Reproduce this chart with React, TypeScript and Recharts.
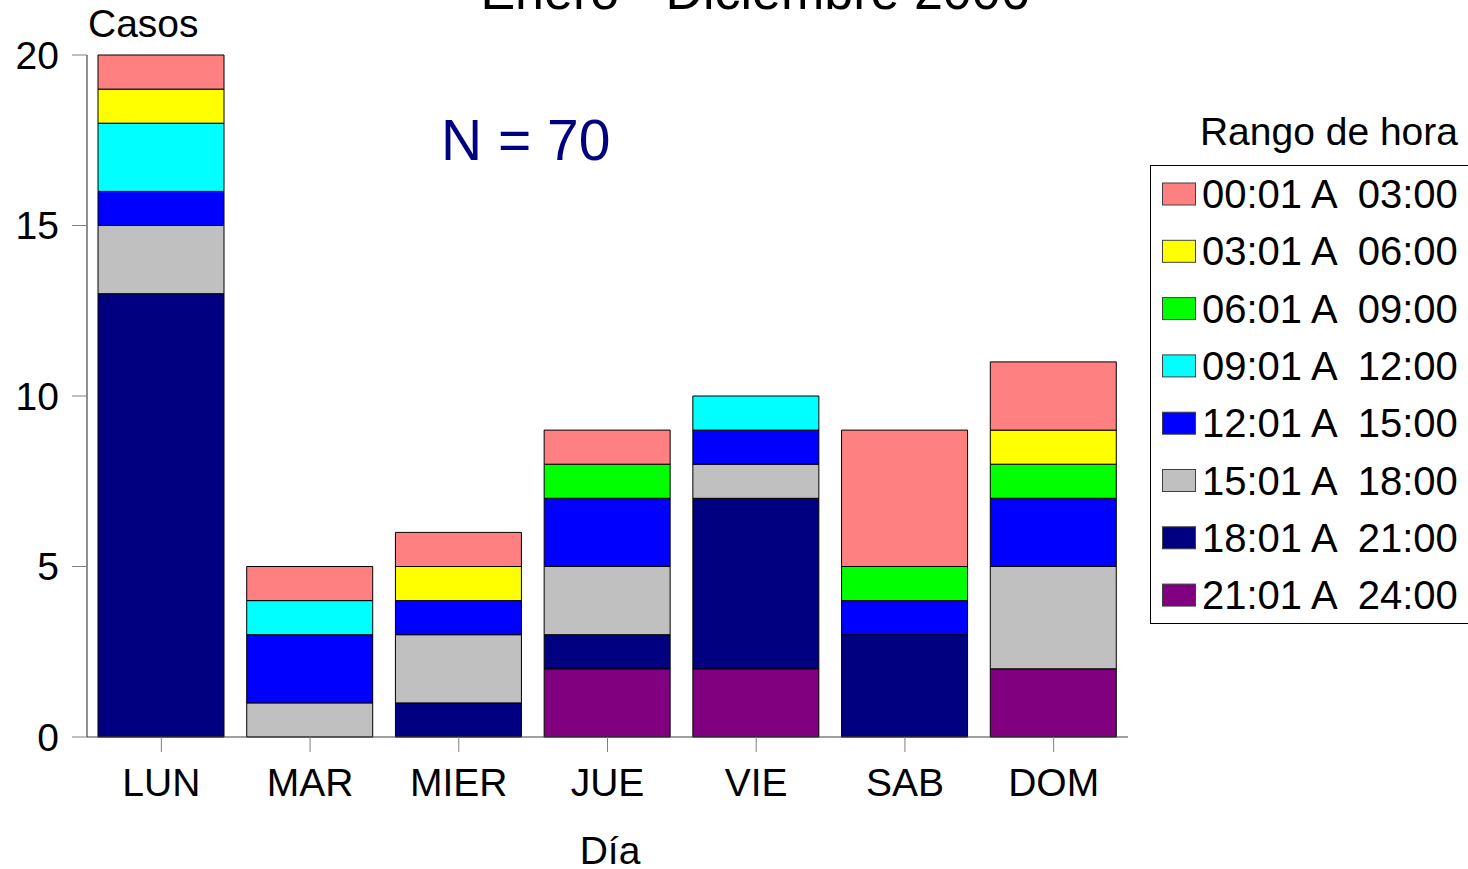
import React from 'react';
import { BarChart, Bar, XAxis, YAxis } from 'recharts';

// Días de la semana (eje X)
const dias = ['LUN', 'MAR', 'MIER', 'JUE', 'VIE', 'SAB', 'DOM'];

// Rangos de hora, en el orden de la leyenda (de arriba a abajo)
const rangos = [
  '00:01 A  03:00',
  '03:01 A  06:00',
  '06:01 A  09:00',
  '09:01 A  12:00',
  '12:01 A  15:00',
  '15:01 A  18:00',
  '18:01 A  21:00',
  '21:01 A  24:00',
];

const colores = ['#FF8080', '#FFFF00', '#00FF00', '#00FFFF', '#0000FF', '#C0C0C0', '#000080', '#800080'];

// Casos por día para cada rango
const r0003 = [1, 1, 1, 1, 0, 4, 2];
const r0306 = [1, 0, 1, 0, 0, 0, 1];
const r0609 = [0, 0, 0, 1, 0, 1, 1];
const r0912 = [2, 1, 0, 0, 1, 0, 0];
const r1215 = [1, 2, 1, 2, 1, 1, 2];
const r1518 = [2, 1, 2, 2, 1, 0, 3];
const r1821 = [13, 0, 1, 1, 5, 3, 0];
const r2124 = [0, 0, 0, 2, 2, 0, 2];

const series = [r0003, r0306, r0609, r0912, r1215, r1518, r1821, r2124];
const yTicks = [0, 5, 10, 15, 20];

const data = dias.map((dia, i) => {
  const row: Record<string, number | string> = { dia };
  series.forEach((s, j) => {
    row[`s${j}`] = s[i];
  });
  return row;
});

const FONT = '"Liberation Sans", Arial, Helvetica, sans-serif';

export default function App() {
  // la serie de abajo en la pila es la última de la leyenda
  const orden = rangos.map((_, j) => rangos.length - 1 - j);

  return (
    <div style={{ position: 'absolute', left: 0, top: 0 }}>
      <BarChart
        width={1468}
        height={869}
        data={data}
        margin={{ top: 55, right: 340, bottom: 32, left: 0 }}
        style={{ fontFamily: FONT }}
      >
        <XAxis
          dataKey="dia"
          height={100}
          tickSize={15}
          tickMargin={16}
          stroke="#404040"
          tickLine={{ stroke: '#808080' }}
          tick={{ fill: '#000', fontSize: 39 }}
          interval={0}
        />
        <YAxis
          width={87}
          domain={[0, 20]}
          ticks={yTicks}
          tickSize={15}
          tickMargin={13}
          stroke="#202020"
          tickLine={{ stroke: '#808080' }}
          tick={{ fill: '#000', fontSize: 39 }}
        />
        {orden.map((j) => (
          <Bar
            key={j}
            dataKey={`s${j}`}
            stackId="a"
            fill={colores[j]}
            stroke="#000"
            strokeWidth={1}
            barSize={126}
            isAnimationActive={false}
          />
        ))}

        <text x={755} y={9} textAnchor="middle" fontSize={52} fill="#000" style={{ fontFamily: FONT }}>
          Enero - Diciembre 2006
        </text>
        <text x={88} y={37} fontSize={39} fill="#000" style={{ fontFamily: FONT }}>
          Casos
        </text>
        <text x={441} y={160} fontSize={57} fill="#000080" style={{ fontFamily: FONT }}>
          N = 70
        </text>
        <text x={610} y={864} textAnchor="middle" fontSize={39} fill="#000" style={{ fontFamily: FONT }}>
          Día
        </text>

        <text x={1458} y={145} textAnchor="end" fontSize={39} fill="#000" style={{ fontFamily: FONT }}>
          Rango de hora
        </text>
        <rect x={1150.5} y={165.5} width={330} height={458} fill="#fff" stroke="#000" strokeWidth={1} />
        {rangos.map((r, i) => {
          const cy = 194 + i * 57.3;
          return (
            <g key={r}>
              <rect x={1162.5} y={cy - 11} width={33} height={22} fill={colores[i]} stroke="#404040" strokeWidth={1} />
              <text
                x={1202}
                y={cy + 14}
                fontSize={40}
                fill="#000"
                style={{ fontFamily: FONT, whiteSpace: 'pre' }}
              >
                {r}
              </text>
            </g>
          );
        })}
      </BarChart>
    </div>
  );
}
